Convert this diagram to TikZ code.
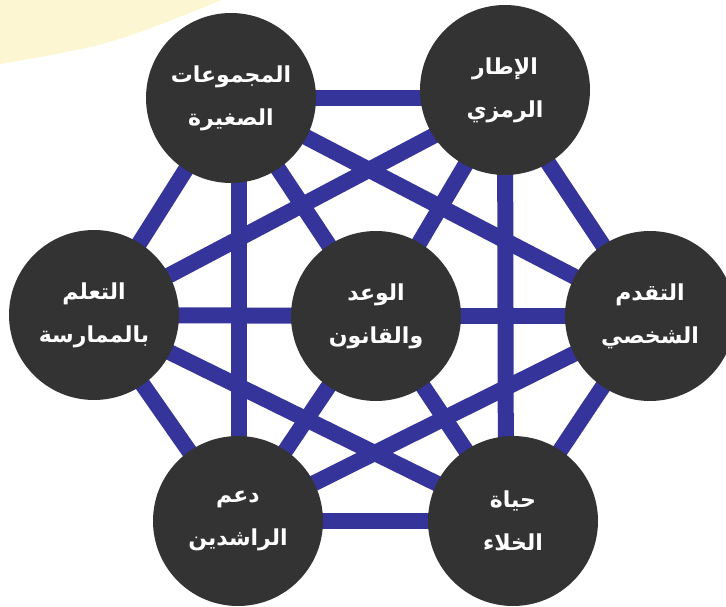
\documentclass[tikz,border=0pt]{standalone}
\usepackage{fontspec}
\newfontfamily\arabicfont[Script=Arabic]{DejaVu Sans}
\TeXXeTstate=1
\usetikzlibrary{backgrounds}
\definecolor{linkblue}{HTML}{34349A}
\definecolor{disc}{HTML}{333333}
\definecolor{paleyellow}{HTML}{FCF7D2}
\begin{document}
\begin{tikzpicture}[x=1pt,y=-1pt,
  hub/.style={circle,fill=disc,minimum size=170pt,inner sep=0pt,text=white,align=center,
    font=\arabicfont\bfseries\fontsize{22}{43}\selectfont},
  link/.style={draw=linkblue,line width=16pt}]
\useasboundingbox (0,0) rectangle (726,607);
\node[hub] (tl) at (231,98) {\beginR المجموعات\endR\\\beginR الصغيرة\endR};
\node[hub] (tr) at (505,90) {\beginR الإطار\endR\\\beginR الرمزي\endR};
\node[hub] (l) at (94,315) {\beginR التعلم\endR\\\beginR بالممارسة\endR};
\node[hub] (c) at (376,316) {\beginR الوعد\endR\\\beginR والقانون\endR};
\node[hub] (r) at (650,316) {\beginR التقدم\endR\\\beginR الشخصي\endR};
\node[hub] (bl) at (238,521) {\beginR دعم\endR\\\beginR الراشدين\endR};
\node[hub] (br) at (513,521) {\beginR حياة\endR\\\beginR الخلاء\endR};
\begin{scope}[on background layer]
\fill[paleyellow] (0,0) -- (222,0) .. controls (110,45) .. (0,64) -- cycle;
\draw[link] (tl.center) -- ([yshift=-8pt]tr.center);
\draw[link] (tl.center) -- (l.center);
\draw[link] (tl.center) -- (r.center);
\draw[link] ([xshift=8pt]tl.center) -- ([xshift=1pt]bl.center);
\draw[link] (tl.center) -- (c.center);
\draw[link] ([yshift=-8pt]tr.center) -- (l.center);
\draw[link] ([yshift=-8pt]tr.center) -- (r.center);
\draw[link] ([yshift=-8pt]tr.center) -- ([xshift=-7pt]br.center);
\draw[link] ([yshift=-8pt]tr.center) -- (c.center);
\draw[link] (l.center) -- (c.center);
\draw[link] (l.center) -- (bl.center);
\draw[link] (l.center) -- (br.center);
\draw[link] (r.center) -- (c.center);
\draw[link] (r.center) -- (bl.center);
\draw[link] (r.center) -- (br.center);
\draw[link] (bl.center) -- (br.center);
\draw[link] (bl.center) -- (c.center);
\draw[link] (br.center) -- (c.center);
\end{scope}
\end{tikzpicture}
\end{document}
